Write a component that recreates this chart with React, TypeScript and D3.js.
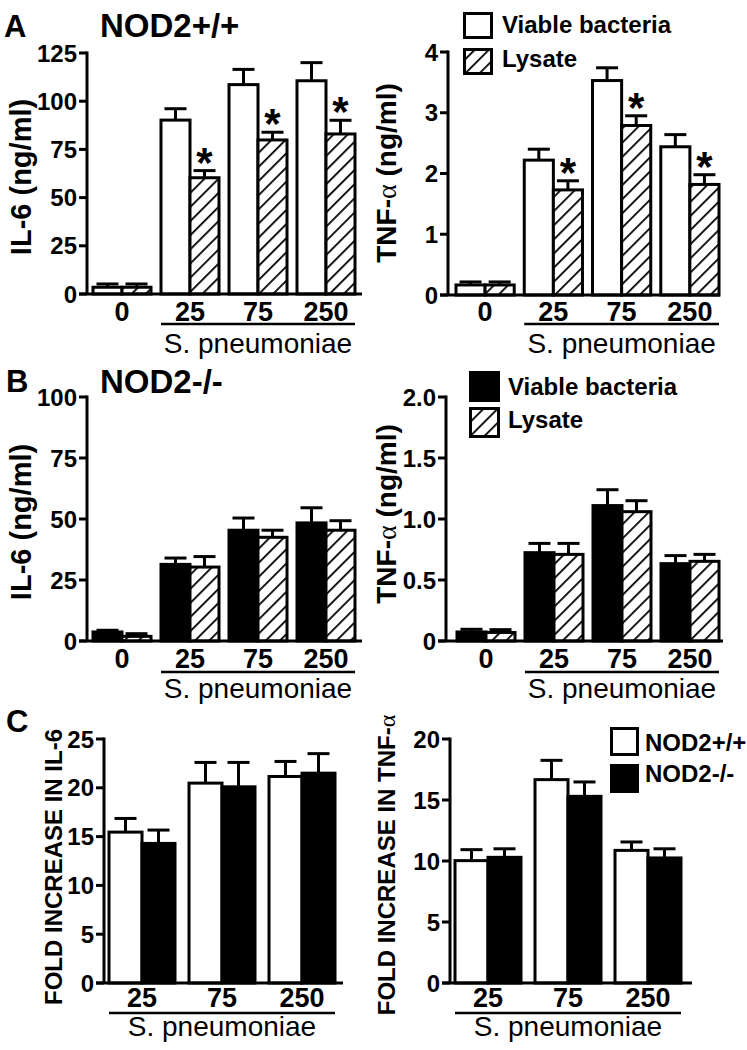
import * as d3 from "d3";

const FONT = "'Liberation Sans', Arial, Helvetica, sans-serif";

// ---- data ----
const dosesAB = ["0", "25", "75", "250"];
const dosesC = ["25", "75", "250"];

// A: NOD2+/+
const il6WtViable = [3.5, 90.2, 108.6, 110.6];
const il6WtViableErr = [1.7, 5.9, 7.9, 9.4];
const il6WtLysate = [3.5, 60.3, 79.9, 83.0];
const il6WtLysateErr = [1.7, 3.7, 4.0, 7.1];
const tnfWtViable = [0.165, 2.22, 3.53, 2.44];
const tnfWtViableErr = [0.05, 0.18, 0.21, 0.2];
const tnfWtLysate = [0.165, 1.73, 2.79, 1.82];
const tnfWtLysateErr = [0.05, 0.15, 0.16, 0.16];
const starsA = [false, true, true, true];

// B: NOD2-/-
const il6KoViable = [3.7, 31.4, 45.4, 48.4];
const il6KoViableErr = [0.7, 2.6, 5.0, 6.2];
const il6KoLysate = [1.9, 30.3, 42.5, 45.4];
const il6KoLysateErr = [1.1, 4.3, 2.9, 3.9];
const tnfKoViable = [0.074, 0.724, 1.11, 0.634];
const tnfKoViableErr = [0.022, 0.076, 0.13, 0.066];
const tnfKoLysate = [0.07, 0.71, 1.06, 0.653];
const tnfKoLysateErr = [0.023, 0.09, 0.09, 0.057];

// C: fold increase
const foldIl6Wt = [15.46, 20.48, 21.16];
const foldIl6WtErr = [1.4, 2.12, 1.54];
const foldIl6Ko = [14.3, 20.1, 21.5];
const foldIl6KoErr = [1.37, 2.5, 2.0];
const foldTnfWt = [10.03, 16.67, 10.87];
const foldTnfWtErr = [0.9, 1.58, 0.69];
const foldTnfKo = [10.3, 15.3, 10.25];
const foldTnfKoErr = [0.7, 1.18, 0.75];

const ticksIl6A = [0, 25, 50, 75, 100, 125];
const ticksTnfA = [0, 1, 2, 3, 4];
const ticksIl6B = [0, 25, 50, 75, 100];
const ticksTnfB = [0, 0.5, 1.0, 1.5, 2.0];
const ticksFoldIl6 = [0, 5, 10, 15, 20, 25];
const ticksFoldTnf = [0, 5, 10, 15, 20];

type Series = { values: number[]; errs: number[]; fill: string; stars?: boolean[] };

const ALPHA_FONT = "'Liberation Serif', 'DejaVu Serif', serif";

function BarPanel(props: any) {
  const {
    axisX, baseRight, y0, y1, max, ticks, fmt, cats, series, r0, r1, padInner,
    labelY, lineY, lineFrom, xTitleY, catSize,
  } = props;
  const y = d3.scaleLinear().domain([0, max]).range([y0, y1]);
  const x = d3.scaleBand<string>().domain(cats).range([r0, r1]).paddingInner(padInner);
  const xs = d3
    .scaleBand<string>()
    .domain(series.map((_: Series, i: number) => String(i)))
    .range([0, x.bandwidth()]);
  const bw = xs.bandwidth();
  const lineStart = x(cats[lineFrom])!;
  const lineEnd = x(cats[cats.length - 1])! + x.bandwidth();

  return (
    <g>
      {series.map((s: Series, si: number) =>
        cats.map((c: string, ci: number) => {
          const bx = x(c)! + xs(String(si))!;
          const cx = bx + bw / 2;
          const top = y(s.values[ci]);
          const cap = y(s.values[ci] + s.errs[ci]);
          return (
            <g key={`${si}-${ci}`}>
              <line x1={cx} x2={cx} y1={top} y2={cap} stroke="#000" strokeWidth={3} />
              <line x1={cx - 11} x2={cx + 11} y1={cap} y2={cap} stroke="#000" strokeWidth={3} />
              <rect
                x={bx}
                y={top}
                width={bw}
                height={y0 - top}
                fill={s.fill}
                stroke="#000"
                strokeWidth={3}
              />
              {s.stars && s.stars[ci] && (
                <text
                  x={cx}
                  y={cap + 6}
                  textAnchor="middle"
                  fontFamily={FONT}
                  fontWeight="bold"
                  fontSize={42}
                >
                  *
                </text>
              )}
            </g>
          );
        })
      )}
      {/* axes */}
      <line x1={axisX} x2={axisX} y1={y1 - 1.5} y2={y0} stroke="#000" strokeWidth={3} />
      <line x1={axisX - 8} x2={baseRight} y1={y0} y2={y0} stroke="#000" strokeWidth={3} />
      {ticks.map((t: number) => (
        <g key={t}>
          <line x1={axisX - 8} x2={axisX} y1={y(t)} y2={y(t)} stroke="#000" strokeWidth={3} />
          <text
            x={axisX - 10}
            y={y(t)}
            dy="0.36em"
            textAnchor="end"
            fontFamily={FONT}
            fontWeight="bold"
            fontSize={24}
          >
            {fmt(t)}
          </text>
        </g>
      ))}
      {cats.map((c: string) => (
        <text
          key={c}
          x={x(c)! + x.bandwidth() / 2}
          y={labelY}
          textAnchor="middle"
          fontFamily={FONT}
          fontWeight="bold"
          fontSize={catSize}
        >
          {c}
        </text>
      ))}
      <line x1={lineStart} x2={lineEnd} y1={lineY} y2={lineY} stroke="#000" strokeWidth={2.5} />
      <text
        x={(lineStart + lineEnd) / 2}
        y={xTitleY}
        textAnchor="middle"
        fontFamily={FONT}
        fontSize={28}
      >
        S. pneumoniae
      </text>
    </g>
  );
}

function LegendItem({ x, y, w, h, fill, label, tx, ty, size }: any) {
  return (
    <g>
      <rect x={x + 1.5} y={y + 1.5} width={w - 3} height={h - 3} fill={fill} stroke="#000" strokeWidth={3} />
      <text x={tx} y={ty} fontFamily={FONT} fontWeight="bold" fontSize={size}>
        {label}
      </text>
    </g>
  );
}

function RotTitle({ x, y, size, children }: any) {
  return (
    <text
      transform={`translate(${x},${y}) rotate(-90)`}
      textAnchor="middle"
      fontFamily={FONT}
      fontWeight="bold"
      fontSize={size}
    >
      {children}
    </text>
  );
}

export default function App() {
  const hatch = "url(#hatch)";
  const intFmt = (d: number) => String(d);
  const oneDec = (d: number) => (d === 0 ? "0" : d.toFixed(1));

  return (
    <svg
      width={747}
      height={1050}
      style={{ position: "absolute", left: 0, top: 0, background: "#fff" }}
    >
      <defs>
        <pattern id="hatch" patternUnits="userSpaceOnUse" width={10} height={10} patternTransform="rotate(45)">
          <rect width={10} height={10} fill="#fff" />
          <line x1={0} y1={0} x2={0} y2={10} stroke="#000" strokeWidth={3.6} />
        </pattern>
      </defs>
      <rect width={747} height={1050} fill="#fff" />

      {/* Panel A */}
      <text x={4} y={37} fontFamily={FONT} fontWeight="bold" fontSize={31}>A</text>
      <text x={100} y={37} fontFamily={FONT} fontWeight="bold" fontSize={33}>NOD2+/+</text>
      <BarPanel
        axisX={87} baseRight={362} y0={294} y1={53} max={125} ticks={ticksIl6A} fmt={intFmt}
        cats={dosesAB} r0={93} r1={355} padInner={10 / 68}
        series={[
          { values: il6WtViable, errs: il6WtViableErr, fill: "#fff" },
          { values: il6WtLysate, errs: il6WtLysateErr, fill: hatch, stars: starsA },
        ]}
        labelY={321} lineY={324} lineFrom={1} xTitleY={353} catSize={27}
      />
      <RotTitle x={31} y={177} size={29}>IL-6 (ng/ml)</RotTitle>
      <BarPanel
        axisX={448} baseRight={720} y0={295} y1={52} max={4} ticks={ticksTnfA} fmt={intFmt}
        cats={dosesAB} r0={456} r1={719} padInner={10 / 68}
        series={[
          { values: tnfWtViable, errs: tnfWtViableErr, fill: "#fff" },
          { values: tnfWtLysate, errs: tnfWtLysateErr, fill: hatch, stars: starsA },
        ]}
        labelY={321} lineY={324} lineFrom={1} xTitleY={353} catSize={27}
      />
      <RotTitle x={396} y={173} size={28}>
        TNF-<tspan fontFamily={ALPHA_FONT} fontWeight="normal">α</tspan> (ng/ml)
      </RotTitle>
      <LegendItem x={463} y={12} w={30} h={27} fill="#fff" label="Viable bacteria" tx={502} ty={33} size={24} />
      <LegendItem x={463} y={48} w={30} h={27} fill={hatch} label="Lysate" tx={502} ty={67} size={24} />

      {/* Panel B */}
      <text x={6} y={392} fontFamily={FONT} fontWeight="bold" fontSize={31}>B</text>
      <text x={100} y={393} fontFamily={FONT} fontWeight="bold" fontSize={33}>NOD2-/-</text>
      <BarPanel
        axisX={87} baseRight={362} y0={641} y1={397} max={100} ticks={ticksIl6B} fmt={intFmt}
        cats={dosesAB} r0={93} r1={355} padInner={10 / 68}
        series={[
          { values: il6KoViable, errs: il6KoViableErr, fill: "#000" },
          { values: il6KoLysate, errs: il6KoLysateErr, fill: hatch },
        ]}
        labelY={668} lineY={672} lineFrom={1} xTitleY={698} catSize={27}
      />
      <RotTitle x={31} y={522} size={29}>IL-6 (ng/ml)</RotTitle>
      <BarPanel
        axisX={446} baseRight={723} y0={641} y1={397} max={2} ticks={ticksTnfB} fmt={oneDec}
        cats={dosesAB} r0={457} r1={719} padInner={10 / 68}
        series={[
          { values: tnfKoViable, errs: tnfKoViableErr, fill: "#000" },
          { values: tnfKoLysate, errs: tnfKoLysateErr, fill: hatch },
        ]}
        labelY={668} lineY={672} lineFrom={1} xTitleY={698} catSize={27}
      />
      <RotTitle x={396} y={514} size={28}>
        TNF-<tspan fontFamily={ALPHA_FONT} fontWeight="normal">α</tspan> (ng/ml)
      </RotTitle>
      <LegendItem x={469} y={371} w={31} h={31} fill="#000" label="Viable bacteria" tx={508} ty={395} size={24} />
      <LegendItem x={469} y={407} w={31} h={31} fill={hatch} label="Lysate" tx={508} ty={428} size={24} />

      {/* Panel C */}
      <text x={6} y={732} fontFamily={FONT} fontWeight="bold" fontSize={31}>C</text>
      <BarPanel
        axisX={104} baseRight={343} y0={983} y1={739} max={25} ticks={ticksFoldIl6} fmt={intFmt}
        cats={dosesC} r0={109} r1={335} padInner={14 / 80}
        series={[
          { values: foldIl6Wt, errs: foldIl6WtErr, fill: "#fff" },
          { values: foldIl6Ko, errs: foldIl6KoErr, fill: "#000" },
        ]}
        labelY={1007} lineY={1013} lineFrom={0} xTitleY={1036} catSize={27}
      />
      <RotTitle x={62} y={867} size={24}>FOLD INCREASE IN IL-6</RotTitle>
      <BarPanel
        axisX={450} baseRight={692} y0={983} y1={739} max={20} ticks={ticksFoldTnf} fmt={intFmt}
        cats={dosesC} r0={455} r1={681} padInner={14 / 80}
        series={[
          { values: foldTnfWt, errs: foldTnfWtErr, fill: "#fff" },
          { values: foldTnfKo, errs: foldTnfKoErr, fill: "#000" },
        ]}
        labelY={1007} lineY={1013} lineFrom={0} xTitleY={1036} catSize={27}
      />
      <RotTitle x={395} y={865} size={24}>
        FOLD INCREASE IN TNF-<tspan fontFamily={ALPHA_FONT} fontWeight="normal">α</tspan>
      </RotTitle>
      <LegendItem x={610} y={727} w={29} h={29} fill="#fff" label="NOD2+/+" tx={645} ty={751} size={24} />
      <LegendItem x={610} y={764} w={29} h={29} fill="#000" label="NOD2-/-" tx={645} ty={782} size={24} />
    </svg>
  );
}
